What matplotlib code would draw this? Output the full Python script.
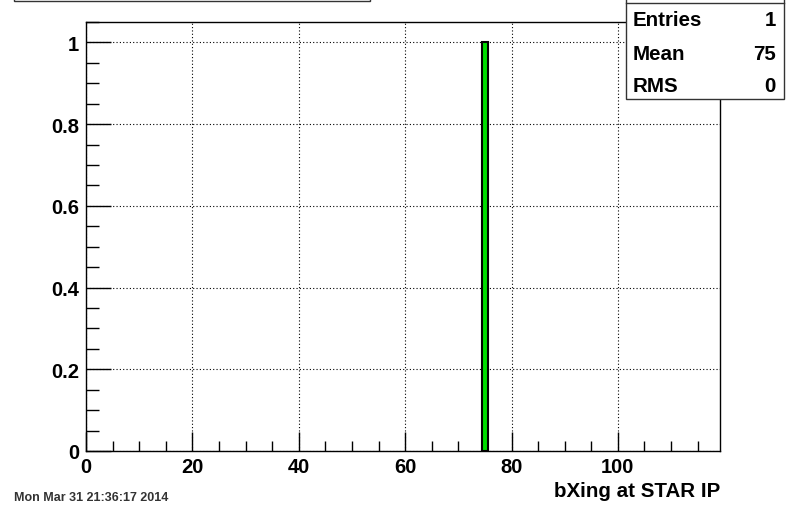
import matplotlib
matplotlib.use("Agg")
import matplotlib.pyplot as plt
from matplotlib.patches import Rectangle
from matplotlib.ticker import MultipleLocator

# histogram contents: one filled bin
bin_lo = [74.5]
bin_hi = [75.5]
counts = [1]

stat_names = ["Entries", "Mean", "RMS"]
stat_values = ["1", "75", "0"]

x_label = "bXing at STAR IP"
date_text = "Mon Mar 31 21:36:17 2014"

plt.rcParams['font.family'] = ['Liberation Sans', 'DejaVu Sans']
plt.rcParams['font.weight'] = 'bold'

W, H = 804, 506
fig = plt.figure(figsize=(W / 100, H / 100), dpi=100)
ax = fig.add_axes([86 / W, (H - 452) / H, (720 - 86) / W, (452 - 23) / H])

for lo, hi, c in zip(bin_lo, bin_hi, counts):
    ax.add_patch(Rectangle((lo, 0), hi - lo, c, facecolor="#00dd00",
                           edgecolor="black", linewidth=1.5, zorder=3))

ax.set_xlim(0, 119.2)
ax.set_ylim(0, 1.05)
ax.xaxis.set_minor_locator(MultipleLocator(5))
ax.yaxis.set_minor_locator(MultipleLocator(0.05))
ax.tick_params(which="both", direction="in", top=False, right=False,
               labelsize=14.5, width=1)
ax.tick_params(axis="x", which="major", length=14, pad=4)
ax.tick_params(axis="x", which="minor", length=7)
ax.tick_params(axis="y", which="major", length=18, pad=5)
ax.tick_params(axis="y", which="minor", length=9)
ax.set_xticks([0, 20, 40, 60, 80, 100])
ax.set_xticklabels(["0", "20", "40", "60", "80", "100"])
ax.set_yticks([0, 0.2, 0.4, 0.6, 0.8, 1.0])
ax.set_yticklabels(["0", "0.2", "0.4", "0.6", "0.8", "1"])
ax.grid(True, which="major", color="black", linestyle=(0, (1, 2)), linewidth=0.8)
for s in ax.spines.values():
    s.set_linewidth(1)

fig.text(720 / W, 1 - 492 / H, x_label, ha="right", va="center",
         fontsize=14.8, fontweight="bold")
fig.text(14 / W, 1 - 498 / H, date_text, ha="left", va="center",
         fontsize=9, fontweight="bold", color="#333333")

# title box, partly above the canvas
fig.patches.append(Rectangle((14 / W, 1 - 2 / H), (370 - 14) / W, 0.1,
                             transform=fig.transFigure, facecolor="white",
                             edgecolor="#333333", linewidth=1, clip_on=False))

# statistics box
bx0, bx1, by1 = 626, 784, 100
fig.patches.append(Rectangle((bx0 / W, 1 - by1 / H), (bx1 - bx0) / W, by1 / H + 0.1,
                             transform=fig.transFigure, facecolor="white",
                             edgecolor="#333333", linewidth=1, zorder=5, clip_on=False))
fig.add_artist(plt.Line2D([bx0 / W, bx1 / W], [1 - 4 / H, 1 - 4 / H],
                          transform=fig.transFigure, color="#333333", linewidth=1, zorder=6))
for i, (name, val) in enumerate(zip(stat_names, stat_values)):
    y = 1 - (21 + 33 * i) / H
    fig.text(633 / W, y, name, ha="left", va="center", fontsize=14.8,
             fontweight="bold", zorder=7)
    fig.text(776 / W, y, val, ha="right", va="center", fontsize=14.8,
             fontweight="bold", zorder=7)

fig.savefig("out.png", dpi=100, facecolor="white")
